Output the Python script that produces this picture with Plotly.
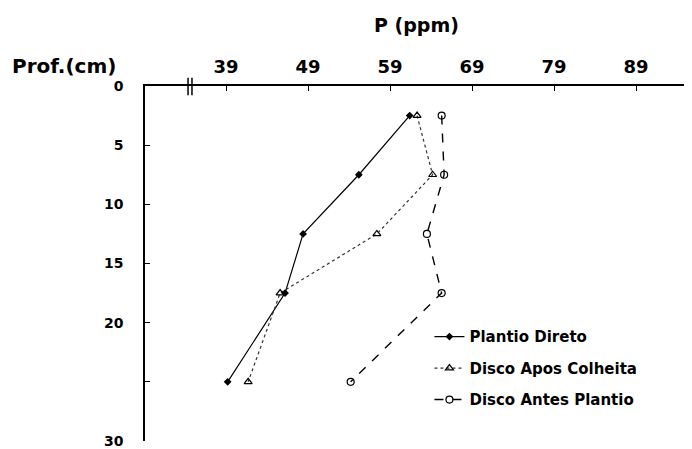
import plotly.graph_objects as go

depth = [2.5, 7.5, 12.5, 17.5, 25]
plantio_direto = [61.4, 55.2, 48.4, 46.2, 39.2]
disco_apos_colheita = [62.3, 64.2, 57.4, 45.6, 41.7]
disco_antes_plantio = [65.3, 65.6, 63.5, 65.3, 54.2]

x_ticks = [39, 49, 59, 69, 79, 89]
y_ticks = [0, 5, 10, 15, 20, 25, 30]
y_ticktext = ["0", "5", "10", "15", "20", "", "30"]

FONT = "DejaVu Sans, Verdana, sans-serif"

fig = go.Figure()
fig.add_trace(go.Scatter(
    x=plantio_direto, y=depth, name="Plantio Direto", legendgroup="a",
    mode="lines+markers",
    line=dict(color="black", width=1.2),
    marker=dict(symbol="diamond", size=6, color="black"),
))
fig.add_trace(go.Scatter(
    x=disco_apos_colheita, y=depth, name="Disco Apos Colheita", legendgroup="b",
    mode="lines+markers",
    line=dict(color="#333", width=1.2, dash="dot"),
    marker=dict(symbol="triangle-up-open", size=7, color="black", line=dict(width=1.2)),
))
fig.add_trace(go.Scatter(
    x=disco_antes_plantio, y=depth, name="Disco Antes Plantio", legendgroup="c",
    mode="lines+markers",
    line=dict(color="black", width=1.4, dash="dash"),
    marker=dict(symbol="circle-open", size=7, color="black", line=dict(width=1.2)),
))

fig.update_layout(
    width=684, height=441,
    margin=dict(l=137, r=0, t=78, b=8),
    paper_bgcolor="white", plot_bgcolor="white",
    font=dict(family=FONT, color="black"),
    showlegend=True,
    legend=dict(
        x=0.52, y=0.34, xanchor="left", yanchor="top",
        bgcolor="rgba(0,0,0,0)", tracegroupgap=9,
        font=dict(size=15, family=FONT, weight="bold"),
        itemwidth=30,
    ),
    xaxis=dict(
        side="top", range=[29.12, 95.83],
        tickvals=x_ticks, ticktext=[str(v) for v in x_ticks],
        ticks="inside", ticklen=5, tickcolor="black",
        showline=True, linecolor="black", linewidth=1.5,
        showgrid=False, zeroline=False,
        tickfont=dict(size=18, family=FONT, weight="bold"),
        ticklabelstandoff=4,
    ),
    yaxis=dict(
        range=[30, 0],
        tickvals=y_ticks, ticktext=y_ticktext,
        ticks="inside", ticklen=5, tickcolor="black",
        showline=True, linecolor="black", linewidth=1.5,
        showgrid=False, zeroline=False,
        tickfont=dict(size=14, family=FONT, weight="bold"),
        ticklabelstandoff=17,
    ),
    annotations=[
        dict(text="P (ppm)", x=0.497, y=1.172, xref="paper", yref="paper",
             xanchor="center", yanchor="middle", showarrow=False,
             font=dict(size=19, family=FONT, weight="bold")),
        dict(text="Prof.(cm)", x=-0.247, y=1.057, xref="paper", yref="paper",
             xanchor="left", yanchor="middle", showarrow=False,
             font=dict(size=20, family=FONT, weight="bold")),
    ],
    shapes=[
        dict(type="line", xref="x", yref="paper", x0=34.37, x1=34.37, y0=0.974, y1=1.023,
             line=dict(color="black", width=1.5)),
        dict(type="line", xref="x", yref="paper", x0=34.85, x1=34.85, y0=0.974, y1=1.023,
             line=dict(color="black", width=1.5)),
    ],
)

fig.write_html("out.html")
